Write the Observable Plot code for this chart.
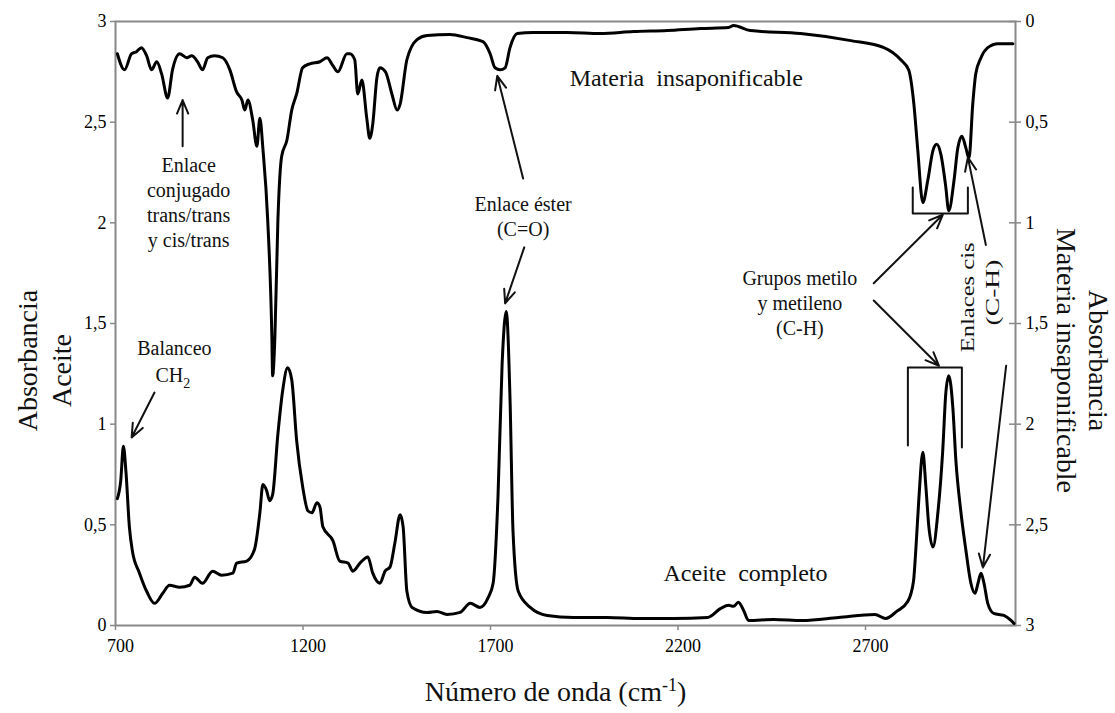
<!DOCTYPE html>
<html><head><meta charset="utf-8">
<script src="https://cdn.jsdelivr.net/npm/d3@7"></script>
<script src="https://cdn.jsdelivr.net/npm/@observablehq/plot@0.6"></script>
<style>body{margin:0;background:#fff} svg{display:block}</style>
</head><body><div id="chart"></div>
<script>
// Aceite completo (left axis, absorbance)
const wnAceite = [705,714,721,728,737,745,764,783,804,826,844,871,898,911,932,959,983,1013,1023,1050,1071,1085,1093,1103,1111,1119,1133,1146,1159,1170,1183,1199,1213,1224,1237,1245,1253,1280,1298,1320,1333,1352,1373,1386,1405,1419,1432,1445,1459,1467,1477,1491,1531,1557,1584,1619,1646,1672,1694,1707,1720,1731,1742,1752,1760,1774,1806,1851,1921,2011,2100,2188,2279,2314,2335,2348,2361,2375,2388,2455,2532,2628,2725,2754,2783,2813,2828,2834,2842,2853,2861,2869,2880,2893,2906,2914,2922,2933,2941,2954,2968,2981,2992,3000,3008,3016,3026,3042,3069,3088,3096];
const absAceite = [0.63,0.72,0.89,0.76,0.49,0.37,0.26,0.17,0.11,0.16,0.20,0.19,0.20,0.24,0.21,0.27,0.25,0.26,0.31,0.32,0.38,0.56,0.70,0.67,0.62,0.65,0.95,1.17,1.28,1.22,0.92,0.69,0.57,0.56,0.61,0.59,0.49,0.42,0.32,0.31,0.27,0.31,0.34,0.26,0.21,0.27,0.29,0.41,0.55,0.49,0.17,0.09,0.065,0.07,0.055,0.065,0.11,0.09,0.14,0.21,0.64,1.30,1.56,1.13,0.47,0.17,0.09,0.05,0.04,0.04,0.035,0.035,0.04,0.085,0.10,0.095,0.115,0.075,0.025,0.03,0.025,0.04,0.055,0.035,0.07,0.12,0.22,0.37,0.62,0.86,0.69,0.49,0.39,0.56,0.87,1.15,1.24,1.08,0.82,0.57,0.37,0.21,0.16,0.21,0.26,0.21,0.11,0.06,0.05,0.025,0.01];

// Materia insaponificable (right axis, reversed: 0 at top)
const wnInsap = [705,724,743,756,769,783,796,810,823,839,852,871,890,903,919,932,946,964,986,1005,1023,1037,1045,1053,1066,1077,1085,1093,1106,1117,1119,1125,1133,1143,1157,1170,1183,1199,1218,1245,1264,1280,1293,1317,1325,1338,1346,1357,1370,1378,1386,1397,1405,1420,1437,1451,1459,1477,1504,1531,1592,1637,1680,1699,1712,1726,1739,1752,1771,1814,1905,1993,2081,2171,2260,2335,2348,2393,2527,2661,2749,2794,2815,2829,2839,2853,2866,2880,2890,2901,2914,2922,2936,2946,2957,2968,2976,2986,2994,3008,3026,3053,3080,3093];
const absInsap = [0.16,0.24,0.16,0.15,0.13,0.17,0.24,0.20,0.26,0.38,0.24,0.16,0.18,0.17,0.20,0.24,0.18,0.17,0.18,0.24,0.35,0.39,0.44,0.39,0.49,0.62,0.48,0.63,0.99,1.57,1.76,1.57,0.99,0.67,0.59,0.44,0.36,0.23,0.21,0.20,0.18,0.22,0.25,0.16,0.16,0.19,0.36,0.29,0.48,0.58,0.51,0.28,0.23,0.25,0.36,0.44,0.41,0.19,0.09,0.07,0.065,0.08,0.10,0.16,0.23,0.24,0.23,0.13,0.06,0.055,0.055,0.06,0.05,0.045,0.035,0.03,0.02,0.045,0.06,0.095,0.13,0.19,0.24,0.41,0.63,0.90,0.79,0.64,0.61,0.66,0.82,0.94,0.79,0.63,0.57,0.63,0.68,0.41,0.26,0.18,0.13,0.11,0.11,0.11];

const xTicks = [700, 1200, 1700, 2200, 2700];
const leftTicks = [0, 0.5, 1, 1.5, 2, 2.5, 3];
const rightTicks = [0, 0.5, 1, 1.5, 2, 2.5, 3];
const yMax = 3;

// annotations (data units)
const labelsBig = [
  {text: "Materia  insaponificable", x: 2222, y: 2.72},
  {text: "Aceite  completo", x: 2380, y: 0.26}
];
const labelsSmall = [
  {text: "Enlace éster\n(C=O)", x: 1787, y: 2.036},
  {text: "Enlace\nconjugado\ntrans/trans\ny cis/trans", x: 895, y: 2.104},
  {text: "Grupos metilo\ny metileno\n(C-H)", x: 2525, y: 1.607},
  {text: "Balanceo", x: 857, y: 1.381}
];
const labelCH2 = [{text: "CH2", x: 853, y: 1.242}];
const labelsRot = [
  {text: "Enlaces cis", x: 2973, y: 1.63, len: 110},
  {text: "(C-H)", x: 3040, y: 1.654, len: 66}
];
const arrows = [
  {x1: 879, y1: 2.38, x2: 879, y2: 2.61},
  {x1: 804, y1: 1.157, x2: 743, y2: 0.934},
  {x1: 1787, y1: 2.22, x2: 1718, y2: 2.73},
  {x1: 1790, y1: 1.878, x2: 1739, y2: 1.60},
  {x1: 2722, y1: 1.70, x2: 2906, y2: 2.04},
  {x1: 2722, y1: 1.614, x2: 2896, y2: 1.29},
  {x1: 3021, y1: 1.89, x2: 2973, y2: 2.325},
  {x1: 3075, y1: 1.29, x2: 3013, y2: 0.288}
];
const brackets = [
  {g: "top", x: 2826, y: 2.176}, {g: "top", x: 2826, y: 2.046}, {g: "top", x: 2973, y: 2.046}, {g: "top", x: 2973, y: 2.176},
  {g: "bot", x: 2813, y: 0.894}, {g: "bot", x: 2813, y: 1.281}, {g: "bot", x: 2957, y: 1.281}, {g: "bot", x: 2957, y: 0.884}
];

const fmt = d => String(Math.round(d * 10) / 10).replace(".", ",");
const aceite = wnAceite.map((x, i) => ({x, y: absAceite[i]}));
const insap = wnInsap.map((x, i) => ({x, y: yMax - absInsap[i]}));
const rightPos = rightTicks.map(r => yMax - r);
const none = () => "";

const serif = "'Liberation Serif','Times New Roman',serif";
const chart = Plot.plot({
  width: 1115, height: 713,
  marginLeft: 115, marginRight: 100, marginTop: 21, marginBottom: 88,
  x: {domain: [700, 3100], axis: null},
  y: {domain: [0, 3], axis: null},
  style: {fontFamily: serif, background: "#fff", color: "#111"},
  marks: [
    // x axis: ticks, then labels
    Plot.axisX({ticks: xTicks, tickSize: 5, tickFormat: none, stroke: "#888", strokeWidth: 1.5, label: null}),
    Plot.axisX({ticks: xTicks, tickSize: 0, tickPadding: 14, dx: 5, fontSize: 18, tickFormat: d => String(d), fill: "#000", label: null}),
    // left y axis
    Plot.axisY({ticks: leftTicks, tickSize: 5, tickFormat: none, stroke: "#888", strokeWidth: 1.5, label: null}),
    Plot.axisY({ticks: leftTicks, tickSize: 0, tickPadding: 9, fontSize: 18, tickFormat: fmt, fill: "#000", label: null}),
    // right y axis (reversed)
    Plot.axisY({anchor: "right", ticks: rightPos, tickSize: 12, dx: -7, tickFormat: none, stroke: "#888", strokeWidth: 1.5, label: null}),
    Plot.axisY({anchor: "right", ticks: rightPos, tickSize: 0, tickPadding: 10, fontSize: 18, tickFormat: d => fmt(yMax - d), fill: "#000", label: null}),
    Plot.frame({stroke: "#888", strokeWidth: 2}),
    Plot.line(aceite, {x: "x", y: "y", stroke: "#000", strokeWidth: 3, curve: "monotone-x", strokeLinejoin: "round"}),
    Plot.line(insap, {x: "x", y: "y", stroke: "#000", strokeWidth: 3, curve: "monotone-x", strokeLinejoin: "round"}),
    Plot.line(brackets, {x: "x", y: "y", z: "g", stroke: "#111", strokeWidth: 2}),
    Plot.arrow(arrows, {x1: "x1", y1: "y1", x2: "x2", y2: "y2", stroke: "#111", strokeWidth: 2, headLength: 11, headAngle: 45}),
    Plot.text(labelsBig, {x: "x", y: "y", text: "text", fontSize: 24, fill: "#111"}),
    Plot.text(labelsSmall, {x: "x", y: "y", text: "text", fontSize: 20, lineHeight: 1.25, fill: "#111"}),
    Plot.text(labelCH2, {x: "x", y: "y", text: "text", fontSize: 20, fill: "#111", className: "ch2"}),
    Plot.text(labelsRot, {x: "x", y: "y", text: "text", fontSize: 18, rotate: -90, fill: "#111", className: "rot"}),
    // axis titles
    Plot.text(["Absorbancia"], {frameAnchor: "left", textAnchor: "middle", dx: -87, dy: 37, rotate: -90, fontSize: 28, fill: "#111"}),
    Plot.text(["Aceite"], {frameAnchor: "left", textAnchor: "middle", dx: -53, dy: 47, rotate: -90, fontSize: 28, fill: "#111"}),
    Plot.text(["Absorbancia"], {frameAnchor: "right", textAnchor: "middle", dx: 82, dy: 37, rotate: 90, fontSize: 28, fill: "#111"}),
    Plot.text(["Materia insaponificable"], {frameAnchor: "right", textAnchor: "middle", dx: 50, dy: 37, rotate: 90, fontSize: 28, fill: "#111"}),
    Plot.text(["Número de onda (cm-1)"], {frameAnchor: "bottom", lineAnchor: "middle", dx: -10, dy: 67, fontSize: 28, fill: "#111", className: "xtitle"})
  ]
});
document.getElementById("chart").appendChild(chart);

// sub/superscripts and stretched rotated labels
const svg = d3.select(chart);
svg.select(".xtitle text").html("Número de onda (cm<tspan dy='-10' font-size='18'>-1</tspan><tspan dy='10'>)</tspan>");
svg.select(".ch2 text").html("CH<tspan dy='6' font-size='14'>2</tspan>");
svg.selectAll(".rot text").each(function(d, i) {
  d3.select(this).attr("textLength", labelsRot[i].len).attr("lengthAdjust", "spacingAndGlyphs");
});
</script>
</body></html>
